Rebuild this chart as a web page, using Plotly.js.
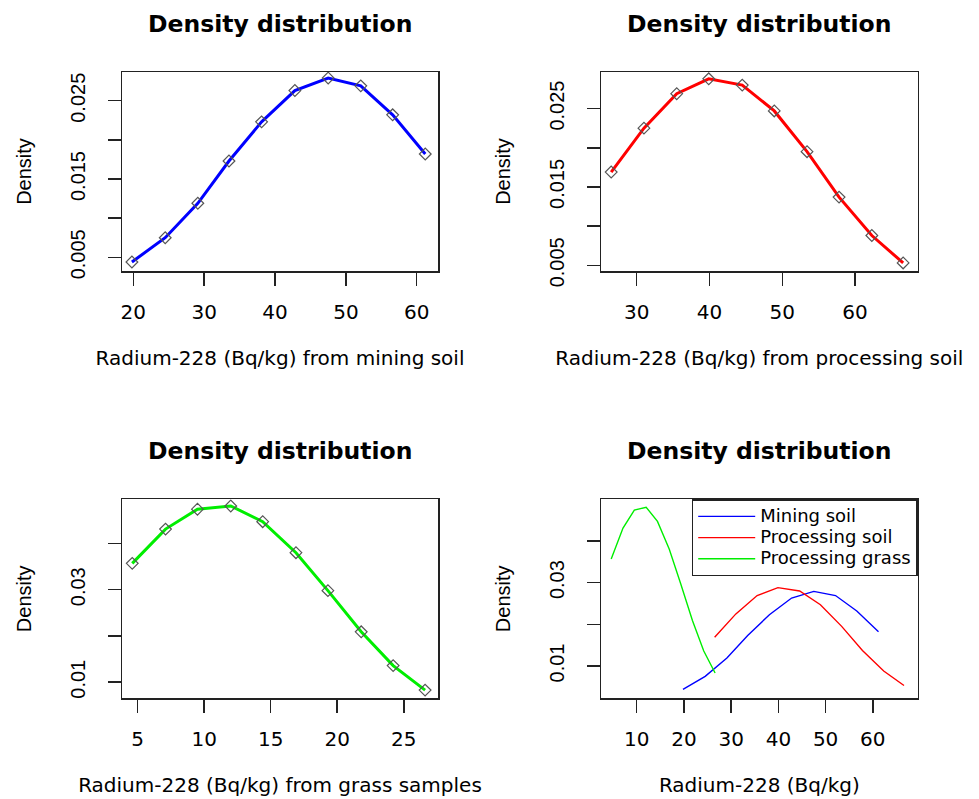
<!DOCTYPE html>
<html>
<head>
<meta charset="utf-8">
<script src="https://cdn.plot.ly/plotly-3.0.1.min.js"></script>
<style>
html,body{margin:0;padding:0;background:#fff;}
#chart{width:979px;height:799px;}
</style>
</head>
<body>
<div id="chart"></div>
<script>
// ---- data ----
const miningX = [19.8, 24.5, 29.1, 33.5, 38.1, 42.8, 47.5, 52.1, 56.6, 61.2];
const miningY = [0.0044, 0.0075, 0.0119, 0.0173, 0.0223, 0.0263, 0.0279, 0.0269, 0.0232, 0.0182];

const procX = [26.5, 31.0, 35.5, 39.9, 44.5, 48.9, 53.4, 57.8, 62.3, 66.6];
const procY = [0.0169, 0.0225, 0.0269, 0.0288, 0.0280, 0.0247, 0.0195, 0.0137, 0.0088, 0.0053];

const grassX = [4.6, 7.1, 9.5, 12.0, 14.4, 16.9, 19.3, 21.8, 24.2, 26.6];
const grassY = [0.0357, 0.0431, 0.0474, 0.0481, 0.0447, 0.0380, 0.0298, 0.0209, 0.0136, 0.0083];

const panelTitle = "Density distribution";
const yTitle = "Density";
const xTitles = [
  "Radium-228 (Bq/kg) from mining soil",
  "Radium-228 (Bq/kg) from processing soil",
  "Radium-228 (Bq/kg) from grass samples",
  "Radium-228 (Bq/kg)"
];
const legendNames = ["Mining soil", "Processing soil", "Processing grass"];

const xTicks1 = [20, 30, 40, 50, 60];
const xTicks2 = [30, 40, 50, 60];
const xTicks3 = [5, 10, 15, 20, 25];
const xTicks4 = [10, 20, 30, 40, 50, 60];

const yTicks1 = [0.005, 0.010, 0.015, 0.020, 0.025];
const yText1  = ["0.005", "", "0.015", "", "0.025"];
const yTicks2 = [0.005, 0.010, 0.015, 0.020, 0.025];
const yText2  = ["0.005", "", "0.015", "", "0.025"];
const yTicks3 = [0.01, 0.02, 0.03, 0.04];
const yText3  = ["0.01", "", "0.03", ""];
const yTicks4 = [0.01, 0.02, 0.03, 0.04];
const yText4  = ["0.01", "", "0.03", ""];

// ---- layout helpers ----
const W = 979, H = 799;
const colL = [122 / W, 438 / W];
const colR = [601 / W, 917.7 / W];
const rowT = [1 - 271 / H, 1 - 72 / H];
const rowB = [1 - 698.3 / H, 1 - 499.3 / H];

const boxColor = '#222';
const hFont = 'DejaVu Sans';
const vFont = 'Liberation Sans, Arial, sans-serif';

function xAxis(domain, range, ticks, anchor, title) {
  return {
    domain: domain, range: range, anchor: anchor,
    tickmode: 'array', tickvals: ticks, ticktext: ticks.map(String),
    ticks: 'outside', ticklen: 13, tickwidth: 1.5, tickcolor: boxColor,
    ticklabelstandoff: 9,
    tickfont: {family: hFont, size: 20, color: '#000'},
    showline: true, mirror: true, linecolor: boxColor, linewidth: 1.5,
    showgrid: false, zeroline: false,
    title: {text: title, font: {family: hFont, size: 20, color: '#000'}, standoff: 28}
  };
}
function yAxis(domain, range, ticks, texts, anchor) {
  return {
    domain: domain, range: range, anchor: anchor,
    tickmode: 'array', tickvals: ticks, ticktext: texts,
    ticks: 'outside', ticklen: 13, tickwidth: 1.5, tickcolor: boxColor,
    tickangle: -90, ticklabelstandoff: 15,
    tickfont: {family: vFont, size: 20, color: '#000'},
    showline: true, mirror: true, linecolor: boxColor, linewidth: 1.5,
    showgrid: false, zeroline: false,
    title: {text: yTitle, font: {family: vFont, size: 20, color: '#000'}, standoff: 29}
  };
}

const markerStyle = {symbol: 'diamond-open', size: 9, color: '#555', line: {width: 1.2, color: '#555'}};
const legendLabel = s => '<span style="font-size:18px">' + s + '</span>';

const traces = [
  {x: miningX, y: miningY, xaxis: 'x', yaxis: 'y', mode: 'lines+markers',
   line: {color: '#0000FF', width: 3}, marker: markerStyle, showlegend: false, hoverinfo: 'x+y'},
  {x: procX, y: procY, xaxis: 'x2', yaxis: 'y2', mode: 'lines+markers',
   line: {color: '#FF0000', width: 3}, marker: markerStyle, showlegend: false, hoverinfo: 'x+y'},
  {x: grassX, y: grassY, xaxis: 'x3', yaxis: 'y3', mode: 'lines+markers',
   line: {color: '#00EE00', width: 3}, marker: markerStyle, showlegend: false, hoverinfo: 'x+y'},
  {x: miningX, y: miningY, xaxis: 'x4', yaxis: 'y4', mode: 'lines', name: legendLabel(legendNames[0]),
   line: {color: '#0000FF', width: 1.4}},
  {x: procX, y: procY, xaxis: 'x4', yaxis: 'y4', mode: 'lines', name: legendLabel(legendNames[1]),
   line: {color: '#FF0000', width: 1.4}},
  {x: grassX, y: grassY, xaxis: 'x4', yaxis: 'y4', mode: 'lines', name: legendLabel(legendNames[2]),
   line: {color: '#00EE00', width: 1.4}}
];

function titleAnn(domain, yPix) {
  return {
    text: '<b>' + panelTitle + '</b>', xref: 'paper', yref: 'paper',
    x: (domain[0] + domain[1]) / 2, y: 1 - yPix / H,
    xanchor: 'center', yanchor: 'middle', showarrow: false,
    font: {family: hFont, size: 23.5, color: '#000'}
  };
}

const layout = {
  width: W, height: H,
  margin: {l: 0, r: 0, t: 0, b: 0},
  paper_bgcolor: '#fff', plot_bgcolor: '#fff',
  xaxis:  xAxis(colL, [18.4, 63.0], xTicks1, 'y', xTitles[0]),
  yaxis:  yAxis(rowT, [0.00325, 0.02867], yTicks1, yText1, 'x'),
  xaxis2: xAxis(colR, [25.1, 68.6], xTicks2, 'y2', xTitles[1]),
  yaxis2: yAxis(rowT, [0.00427, 0.02967], yTicks2, yText2, 'x2'),
  xaxis3: xAxis(colL, [3.83, 27.57], xTicks3, 'y3', xTitles[2]),
  yaxis3: yAxis(rowB, [0.00653, 0.04954], yTicks3, yText3, 'x3'),
  xaxis4: xAxis(colR, [2.44, 69.5], xTicks4, 'y4', xTitles[3]),
  yaxis4: yAxis(rowB, [0.00224, 0.0500], yTicks4, yText4, 'x4'),
  legend: {
    x: colR[1], xanchor: 'right', y: rowB[1], yanchor: 'top',
    bgcolor: '#fff', bordercolor: boxColor, borderwidth: 1.5,
    font: {family: hFont, size: 14, color: '#000'}, tracegroupgap: 0,
    itemwidth: 57
  },
  annotations: [
    titleAnn(colL, 24), titleAnn(colR, 24),
    titleAnn(colL, 451), titleAnn(colR, 451)
  ],
  showlegend: true
};

Plotly.newPlot('chart', traces, layout, {displayModeBar: false, staticPlot: true});
</script>
</body>
</html>
